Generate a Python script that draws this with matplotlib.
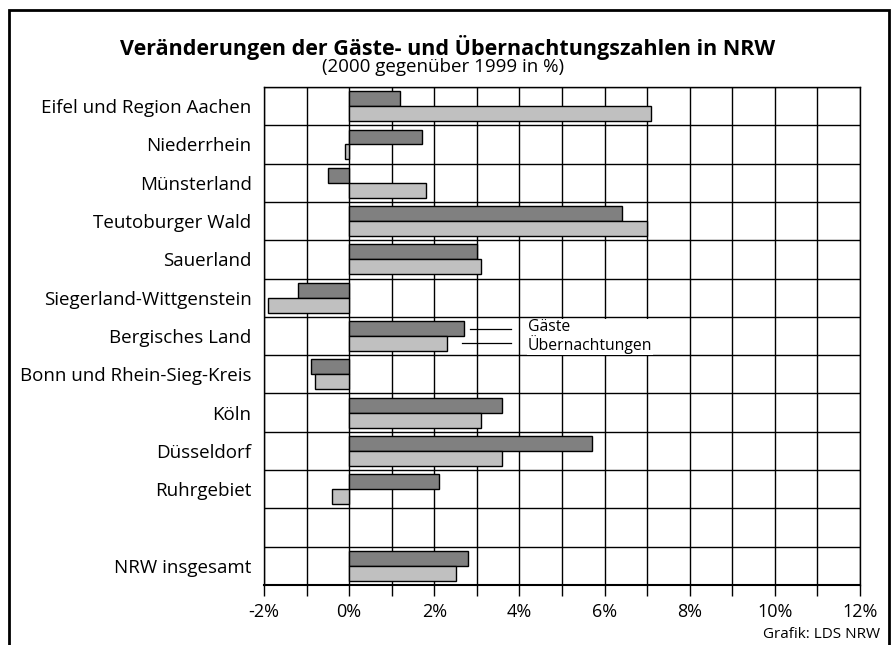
import matplotlib
matplotlib.use("Agg")
import matplotlib.pyplot as plt
import matplotlib.patches as mpatches
import numpy as np

plt.rcParams['font.family'] = ['Open Sans', 'DejaVu Sans']

regions = ["Eifel und Region Aachen", "Niederrhein", "Münsterland", "Teutoburger Wald",
           "Sauerland", "Siegerland-Wittgenstein", "Bergisches Land",
           "Bonn und Rhein-Sieg-Kreis", "Köln", "Düsseldorf", "Ruhrgebiet", "", "NRW insgesamt"]
gaeste = [1.2, 1.7, -0.5, 6.4, 3.0, -1.2, 2.7, -0.9, 3.6, 5.7, 2.1, np.nan, 2.8]
uebern = [7.1, -0.1, 1.8, 7.0, 3.1, -1.9, 2.3, -0.8, 3.1, 3.6, -0.4, np.nan, 2.5]
xticks = [-2, 0, 2, 4, 6, 8, 10, 12]
xtick_labels = ["-2%", "0%", "2%", "4%", "6%", "8%", "10%", "12%"]

W, H = 896, 645
fig = plt.figure(figsize=(W/100, H/100), dpi=100)
ax = fig.add_axes([264/W, 1-585/H, (860-264)/W, (585-87)/H])

n = len(regions)
y = np.arange(n)
bh = 0.39
ax.barh(y - bh/2, gaeste, height=bh, color="#808080", edgecolor="black", linewidth=1.0, zorder=3)
ax.barh(y + bh/2, uebern, height=bh, color="#c0c0c0", edgecolor="black", linewidth=1.0, zorder=3)

ax.set_xlim(-2, 12)
ax.set_ylim(n - 0.5, -0.5)
for xv in range(-2, 13):
    ax.axvline(xv, color="black", lw=1.0, zorder=1)
for k in range(n + 1):
    ax.axhline(k - 0.5, color="black", lw=1.0, zorder=1)

ax.set_yticks(y)
ax.set_yticklabels(regions, fontsize=13.5)
ax.tick_params(axis='y', length=0, pad=9)
ax.set_xticks(range(-2, 13), minor=False)
ax.set_xticklabels([xtick_labels[xticks.index(v)] if v in xticks else "" for v in range(-2, 13)], fontsize=13)
ax.tick_params(axis='x', length=8, width=1.0, pad=5, direction='out')
for s in ax.spines.values():
    s.set_linewidth(1.0)
ax.spines['bottom'].set_linewidth(1.5)

# legend annotation in Bergisches Land row
ri = regions.index("Bergisches Land")
ax.plot([2.85, 3.8], [ri - bh/2, ri - bh/2], color="black", lw=0.9, zorder=4)
ax.plot([2.65, 3.8], [ri + bh/2, ri + bh/2], color="black", lw=0.9, zorder=4)
ax.text(4.2, ri + 0.02, "Gäste\nÜbernachtungen", fontsize=11.3, va="center", ha="left",
        multialignment="left", linespacing=1.0, zorder=5,
        bbox=dict(facecolor="white", edgecolor="none", pad=0.3))

fig.text(448/W, 1-47/H, "Veränderungen der Gäste- und Übernachtungszahlen in NRW",
         ha="center", va="center", fontsize=15.5, fontweight="bold")
fig.text(443/W, 1-67/H, "(2000 gegenüber 1999 in %)", ha="center", va="center", fontsize=13.5)
fig.text(880/W, 1-634/H, "Grafik: LDS NRW", ha="right", va="center", fontsize=11)

# outer frame
frame = mpatches.Polygon([[9/W, 0], [9/W, 1-10/H], [889/W, 1-10/H], [889/W, 0]],
                         closed=False, fill=False, edgecolor="black", lw=2.0,
                         transform=fig.transFigure)
fig.add_artist(frame)

fig.savefig("out.png", dpi=100)
